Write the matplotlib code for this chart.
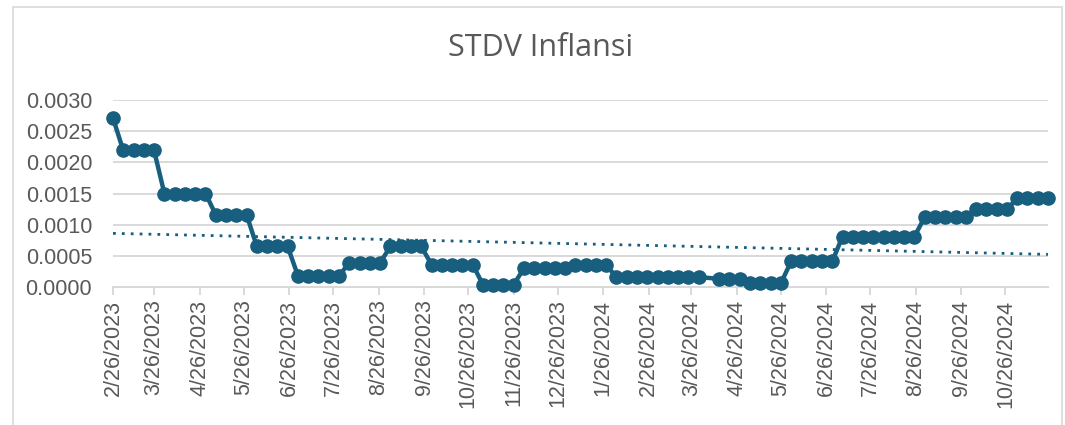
import matplotlib.pyplot as plt
import matplotlib.dates as mdates
from matplotlib.patches import Rectangle
import numpy as np
import pandas as pd

# weekly observations, one week (2024-04-07) missing in the source
dates = pd.date_range('2023-02-26', periods=92, freq='7D')
dates = dates.delete(58)

values = ([0.00271] + [0.00219]*4 + [0.00150]*5 + [0.00116]*4 + [0.00065]*4
          + [0.00018]*5 + [0.00039]*4 + [0.00065]*4 + [0.00036]*5 + [0.00004]*4
          + [0.00030]*5 + [0.00035]*4 + [0.00016]*9 + [0.00013]*3 + [0.00006]*4
          + [0.00041]*5 + [0.00081]*8 + [0.00112]*5 + [0.00125]*4 + [0.00142]*4)
values = np.array(values)

tick_dates = pd.date_range('2023-02-01', '2024-10-01', freq='MS') + pd.Timedelta(days=25)
tick_labels = [f'{d.month}/{d.day}/{d.year}' for d in tick_dates]

col = '#175E7F'
grey = '#595959'

fig = plt.figure(figsize=(10.65, 4.25), dpi=100)
fig.patches.append(Rectangle((13/1065, -0.1), 1049/1065, 1.083, transform=fig.transFigure,
                             fill=False, ec='#d9d9d9', lw=1.2))
ax = fig.add_axes([113/1065, 138/425, 935/1065, 187/425])

x = mdates.date2num(dates)
ax.plot(x, values, color=col, lw=3.2, marker='o', ms=9.5, clip_on=False, zorder=3)

# linear trend
k, b = np.polyfit(x, values, 1)
xt = np.array([x[0], x[-1]])
ax.plot(xt, k*xt + b, color=col, lw=2, ls=(0, (1, 2.2)), zorder=2)

ax.set_xlim(x[0], x[-1])
ax.set_ylim(0, 0.003)
ax.set_yticks(np.arange(0, 0.00301, 0.0005))
ax.set_yticklabels([f'{v:.4f}' for v in np.arange(0, 0.00301, 0.0005)])
ax.set_xticks(mdates.date2num(tick_dates))
ax.set_xticklabels(tick_labels, rotation=90, ha='center', va='top')

ax.grid(axis='y', color='#d9d9d9', lw=1.4)
ax.set_axisbelow(True)
for s in ['top', 'right', 'left']:
    ax.spines[s].set_visible(False)
ax.spines['bottom'].set_color('#d9d9d9')
ax.spines['bottom'].set_linewidth(1.4)
ax.tick_params(axis='y', length=0, pad=15, labelsize=15.5, labelcolor=grey)
ax.tick_params(axis='x', length=6, width=1.4, color='#d9d9d9', pad=3, labelsize=15.5, labelcolor=grey)
for t in ax.get_xticklabels() + ax.get_yticklabels():
    t.set_family('Liberation Sans')

fig.text(541/1065, 1 - 48/425, 'STDV Inflansi', ha='center', va='center',
         fontsize=22, color=grey, family='Open Sans')

fig.savefig('out.png', dpi=100)
